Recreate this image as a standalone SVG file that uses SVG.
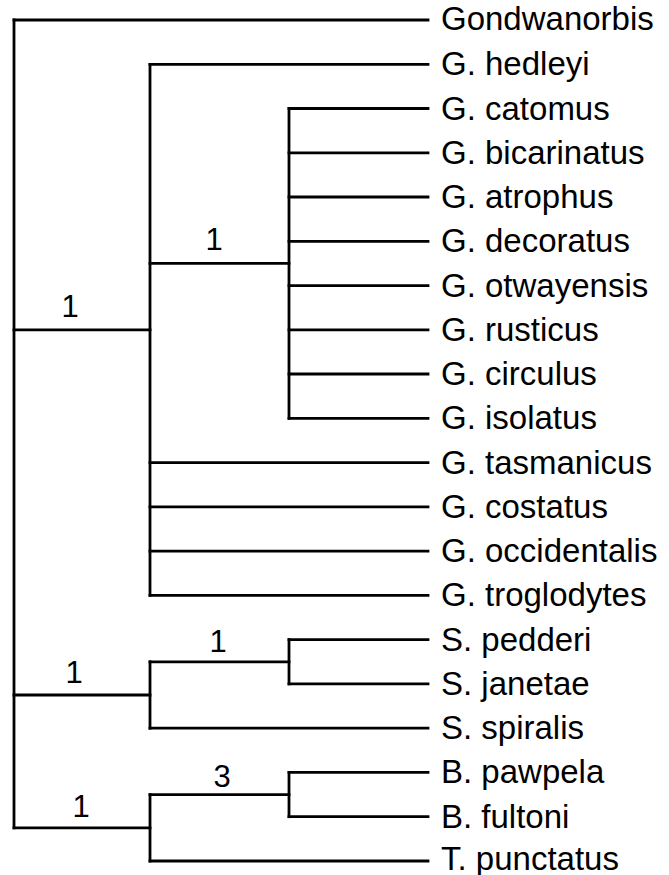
<svg xmlns="http://www.w3.org/2000/svg" width="669" height="875" viewBox="0 0 669 875">
<style>
.br{fill:none;stroke:#000;stroke-width:2.8;stroke-linecap:square;stroke-linejoin:miter}
.tip{font-family:"Liberation Sans",Arial,Helvetica,sans-serif;font-size:33px;fill:#000}
.sup{font-family:"Liberation Sans",Arial,Helvetica,sans-serif;font-size:31px;fill:#000;text-anchor:middle}
</style>
<rect width="669" height="875" fill="#fff"/>
<g id="connectors">
<path class="br" d="M14,20 V827.8"/>
<path class="br" d="M14,20 H428"/>
<path class="br" d="M14,329.8 H150"/>
<path class="br" d="M150,64.3 V595.4"/>
<path class="br" d="M150,64.3 H428"/>
<path class="br" d="M150,263.4 H289"/>
<path class="br" d="M289,108.5 V418.3"/>
<path class="br" d="M289,108.5 H428 M289,152.8 H428 M289,197 H428 M289,241.3 H428 M289,285.6 H428 M289,329.8 H428 M289,374 H428 M289,418.3 H428"/>
<path class="br" d="M150,462.6 H428 M150,506.9 H428 M150,551.1 H428 M150,595.4 H428"/>
<path class="br" d="M14,695 H150"/>
<path class="br" d="M150,661.8 V728.2"/>
<path class="br" d="M150,661.8 H289"/>
<path class="br" d="M289,639.6 V683.9"/>
<path class="br" d="M289,639.6 H428 M289,683.9 H428"/>
<path class="br" d="M150,728.2 H428"/>
<path class="br" d="M14,827.8 H150"/>
<path class="br" d="M150,794.6 V861"/>
<path class="br" d="M150,794.6 H289"/>
<path class="br" d="M289,772.4 V816.7"/>
<path class="br" d="M289,772.4 H428 M289,816.7 H428"/>
<path class="br" d="M150,861 H428"/>
</g>
<g id="support-labels">
<text class="sup" x="70" y="317">1</text>
<text class="sup" x="214" y="250">1</text>
<text class="sup" x="74" y="683">1</text>
<text class="sup" x="218" y="652">1</text>
<text class="sup" x="81" y="817">1</text>
<text class="sup" x="222" y="787">3</text>
</g>
<g id="n-gondwanorbis"><text class="tip" x="441" y="30">Gondwanorbis</text></g>
<g id="n-hedleyi"><text class="tip" x="441" y="75.3">G. hedleyi</text></g>
<g id="n-catomus"><text class="tip" x="441" y="119.5">G. catomus</text></g>
<g id="n-bicarinatus"><text class="tip" x="441" y="163.8">G. bicarinatus</text></g>
<g id="n-atrophus"><text class="tip" x="441" y="208">G. atrophus</text></g>
<g id="n-decoratus"><text class="tip" x="441" y="252.3">G. decoratus</text></g>
<g id="n-otwayensis"><text class="tip" x="441" y="296.6">G. otwayensis</text></g>
<g id="n-rusticus"><text class="tip" x="441" y="340.8">G. rusticus</text></g>
<g id="n-circulus"><text class="tip" x="441" y="385">G. circulus</text></g>
<g id="n-isolatus"><text class="tip" x="441" y="429.3">G. isolatus</text></g>
<g id="n-tasmanicus"><text class="tip" x="441" y="473.6">G. tasmanicus</text></g>
<g id="n-costatus"><text class="tip" x="441" y="517.9">G. costatus</text></g>
<g id="n-occidentalis"><text class="tip" x="441" y="562.1">G. occidentalis</text></g>
<g id="n-troglodytes"><text class="tip" x="441" y="606.4">G. troglodytes</text></g>
<g id="n-pedderi"><text class="tip" x="441" y="650.6">S. pedderi</text></g>
<g id="n-janetae"><text class="tip" x="441" y="694.9">S. janetae</text></g>
<g id="n-spiralis"><text class="tip" x="441" y="739.2">S. spiralis</text></g>
<g id="n-pawpela"><text class="tip" x="441" y="783.4">B. pawpela</text></g>
<g id="n-fultoni"><text class="tip" x="441" y="827.7">B. fultoni</text></g>
<g id="n-punctatus"><text class="tip" x="441" y="870">T. punctatus</text></g>
</svg>
